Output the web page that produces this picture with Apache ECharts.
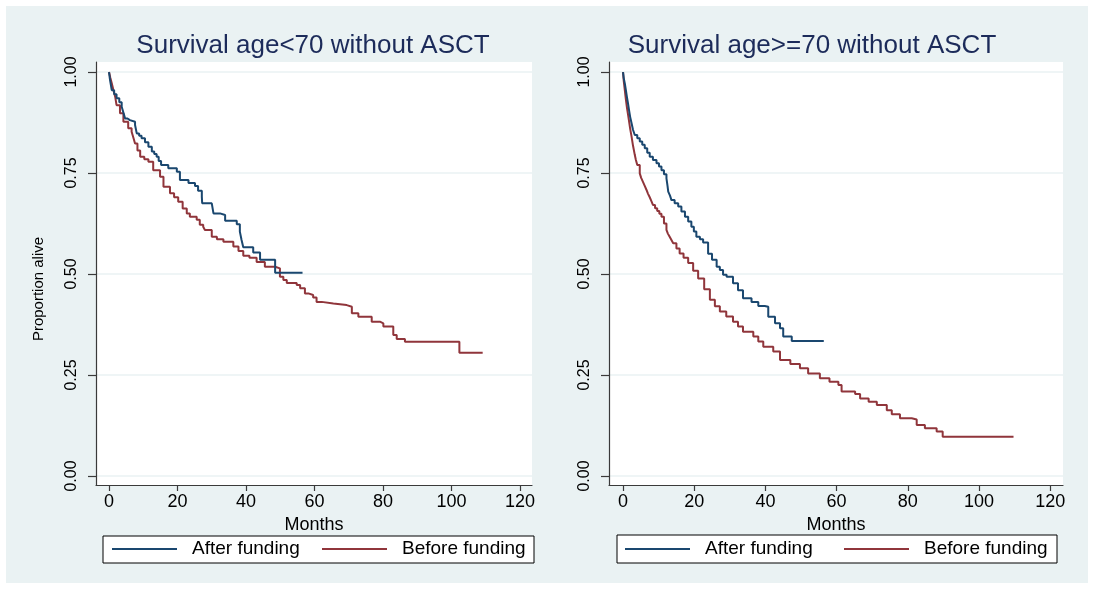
<!DOCTYPE html>
<html><head><meta charset="utf-8">
<script src="https://cdn.jsdelivr.net/npm/echarts@6/dist/echarts.min.js"></script>
<style>
html,body{margin:0;padding:0;background:#fff}
#bg{position:absolute;left:6px;top:6px;width:1082px;height:577px;background:#eaf2f3}
#c{position:absolute;left:0;top:0;width:1094px;height:589px}
</style>
</head><body><div id="bg"></div><div id="c"></div>
<script>
const xTicks = [0, 20, 40, 60, 80, 100, 120];
const yTicks = [0, 0.25, 0.5, 0.75, 1];
const yTickLabels = ['0.00', '0.25', '0.50', '0.75', '1.00'];
const panelTitles = ['Survival age<70 without ASCT', 'Survival age>=70 without ASCT'];
const seriesNames = ['After funding', 'Before funding'];
const xAxisTitle = 'Months';
const yAxisTitle = 'Proportion alive';

// Left panel: age < 70, After funding
const leftAfterMonths = [0, 0.3, 0.8, 1.5, 2.2, 3.0, 3.7, 4.2, 4.7, 5.4, 6.1, 7.6, 8.1, 8.8, 9.5, 10.5, 11.5, 12.5, 13.2, 13.9, 14.5, 15.2, 17.3, 19.8, 20.7, 23.2, 25.1, 26.0, 27.1, 27.2, 30.0, 30.5, 32.4, 33.9, 37.3, 38.2, 38.7, 39.2, 42.1, 44.1, 48.5, 56.5];
const leftAfterSurv   = [1.0, 0.98, 0.955, 0.945, 0.935, 0.925, 0.914, 0.900, 0.885, 0.881, 0.877, 0.869, 0.848, 0.842, 0.836, 0.826, 0.815, 0.803, 0.797, 0.790, 0.780, 0.770, 0.762, 0.753, 0.733, 0.725, 0.718, 0.706, 0.691, 0.675, 0.673, 0.650, 0.646, 0.632, 0.623, 0.605, 0.584, 0.566, 0.553, 0.535, 0.503, 0.503];
// Left panel: age < 70, Before funding
const leftBeforeMonths = [0, 0.4, 0.8, 1.3, 1.8, 2.2, 3.2, 4.2, 5.6, 6.6, 7.1, 7.6, 8.3, 9.1, 10.3, 11.5, 12.9, 14.9, 15.9, 17.8, 19.0, 20.2, 21.5, 22.7, 23.6, 25.6, 26.5, 27.5, 28.0, 30.0, 31.5, 33.4, 36.3, 37.8, 39.2, 41.0, 43.1, 45.5, 48.5, 49.9, 50.9, 51.9, 54.8, 55.8, 57.2, 58.2, 59.6, 60.6, 62.1, 65.5, 69.4, 70.9, 72.8, 76.7, 79.1, 80.1, 83.0, 84.0, 86.4, 102.3, 109.1];
const leftBeforeSurv   = [1.0, 0.985, 0.972, 0.955, 0.939, 0.918, 0.898, 0.877, 0.861, 0.852, 0.838, 0.823, 0.806, 0.790, 0.784, 0.778, 0.757, 0.741, 0.716, 0.700, 0.690, 0.679, 0.662, 0.650, 0.642, 0.634, 0.622, 0.617, 0.609, 0.592, 0.586, 0.580, 0.568, 0.557, 0.545, 0.540, 0.530, 0.518, 0.514, 0.493, 0.485, 0.478, 0.473, 0.465, 0.452, 0.448, 0.442, 0.431, 0.427, 0.423, 0.419, 0.403, 0.394, 0.382, 0.378, 0.370, 0.349, 0.339, 0.332, 0.305, 0.305];
// Right panel: age >= 70, After funding
const rightAfterMonths = [0, 0.2, 0.5, 0.8, 1.1, 1.4, 1.7, 2.0, 2.4, 2.8, 3.3, 4.0, 4.7, 5.4, 6.1, 6.8, 7.5, 8.4, 9.4, 10.1, 10.8, 11.5, 12.2, 12.5, 12.7, 13.2, 13.6, 14.5, 15.5, 16.4, 17.4, 18.3, 19.2, 19.9, 20.6, 21.6, 22.5, 23.9, 25.0, 26.3, 27.2, 28.1, 29.1, 30.9, 32.3, 33.7, 36.1, 38.0, 39.8, 40.8, 42.7, 44.1, 45.0, 47.4, 56.4];
const rightAfterSurv   = [1.0, 0.985, 0.972, 0.955, 0.938, 0.922, 0.905, 0.889, 0.873, 0.857, 0.844, 0.836, 0.828, 0.820, 0.811, 0.800, 0.790, 0.782, 0.774, 0.766, 0.757, 0.747, 0.737, 0.718, 0.704, 0.694, 0.683, 0.675, 0.667, 0.655, 0.642, 0.630, 0.617, 0.605, 0.592, 0.586, 0.578, 0.550, 0.535, 0.518, 0.510, 0.498, 0.493, 0.477, 0.460, 0.440, 0.431, 0.421, 0.419, 0.394, 0.378, 0.366, 0.345, 0.334, 0.334];
// Right panel: age >= 70, Before funding
const rightBeforeMonths = [0, 0.2, 0.5, 0.8, 1.1, 1.4, 1.7, 2.0, 2.4, 2.8, 3.3, 3.6, 4.0, 4.7, 5.1, 5.6, 6.1, 6.6, 7.0, 7.5, 8.0, 8.4, 9.0, 9.6, 10.2, 10.8, 11.5, 12.2, 12.6, 13.1, 13.6, 14.1, 15.0, 15.9, 17.0, 18.3, 19.7, 21.1, 22.8, 24.4, 25.8, 27.2, 29.0, 30.9, 32.3, 33.7, 36.6, 38.0, 39.4, 42.2, 44.1, 47.0, 49.7, 52.0, 55.3, 58.0, 60.5, 61.4, 65.2, 66.6, 69.0, 71.3, 74.1, 75.5, 77.8, 81.1, 82.5, 84.8, 88.1, 89.8, 109.7];
const rightBeforeSurv   = [1.0, 0.978, 0.955, 0.932, 0.912, 0.895, 0.878, 0.860, 0.840, 0.818, 0.795, 0.783, 0.770, 0.749, 0.738, 0.728, 0.718, 0.708, 0.699, 0.690, 0.680, 0.671, 0.663, 0.656, 0.649, 0.642, 0.625, 0.609, 0.600, 0.592, 0.584, 0.576, 0.563, 0.551, 0.540, 0.527, 0.508, 0.489, 0.462, 0.436, 0.420, 0.407, 0.395, 0.382, 0.370, 0.357, 0.345, 0.333, 0.320, 0.308, 0.287, 0.277, 0.267, 0.254, 0.242, 0.233, 0.225, 0.209, 0.203, 0.192, 0.184, 0.176, 0.163, 0.153, 0.143, 0.140, 0.126, 0.118, 0.110, 0.097, 0.097];

const BLUE = '#1a476f', RED = '#90353b', GRID = '#eaf2f3', AXIS = '#3a3a3a';
const FONT = '"Liberation Sans", Arial, sans-serif';
const zip = (a, b) => a.map((v, i) => [v, b[i]]);

const chart = echarts.init(document.getElementById('c'), null, {renderer: 'canvas'});

function xAx(i, min, max) {
  return {
    gridIndex: i, type: 'value', min: min, max: max,
    axisLine: {show: true, onZero: false, lineStyle: {color: AXIS, width: 1.2}},
    axisTick: {show: true, length: 6, customValues: xTicks, lineStyle: {color: AXIS, width: 1.2}},
    axisLabel: {customValues: xTicks, margin: 8, fontSize: 18, color: '#000', fontFamily: FONT},
    splitLine: {show: false},
    name: xAxisTitle, nameLocation: 'middle', nameGap: 26,
    nameTextStyle: {fontSize: 18, color: '#000', fontFamily: FONT}
  };
}
function yAx(i) {
  return {
    gridIndex: i, type: 'value', min: -0.0223, max: 1.0248,
    axisLine: {show: true, onZero: false, lineStyle: {color: AXIS, width: 1.2}},
    axisTick: {show: true, length: 8, customValues: yTicks, lineStyle: {color: AXIS, width: 1.2}},
    axisLabel: {customValues: yTicks, rotate: 90, margin: 16, fontSize: 16, color: '#000', fontFamily: FONT,
      formatter: v => { const k = yTicks.indexOf(v); return k >= 0 ? yTickLabels[k] : ''; }},
    splitLine: {show: true, lineStyle: {color: GRID, width: 1.5}}
  };
}
function ser(name, i, months, surv, color) {
  return {
    name: name, type: 'line', step: 'end', xAxisIndex: i, yAxisIndex: i,
    data: zip(months, surv), showSymbol: false, symbol: 'none',
    lineStyle: {color: color, width: 2}, itemStyle: {color: color},
    emphasis: {disabled: true}, z: 3
  };
}
function leg(name, left, top) {
  return {
    data: [name], left: left, top: top, padding: 0, orient: 'horizontal',
    icon: 'rect', itemWidth: 65, itemHeight: 2, selectedMode: false,
    textStyle: {fontSize: 19, color: '#000', fontFamily: FONT, lineHeight: 20, padding: [0, 0, 0, 10]}
  };
}

chart.setOption({
  animation: false,
  backgroundColor: 'transparent',
  title: [
    {text: panelTitles[0], left: 313, top: 33, textAlign: 'center', padding: 0,
     textStyle: {fontSize: 26, fontWeight: 'normal', color: '#1c2b5a', fontFamily: FONT}},
    {text: panelTitles[1], left: 812, top: 33, textAlign: 'center', padding: 0,
     textStyle: {fontSize: 26, fontWeight: 'normal', color: '#1c2b5a', fontFamily: FONT}}
  ],
  grid: [
    {left: 96, top: 62, width: 436, height: 423, show: true, backgroundColor: '#fff', borderWidth: 0},
    {left: 609, top: 62, width: 454, height: 423, show: true, backgroundColor: '#fff', borderWidth: 0}
  ],
  xAxis: [xAx(0, -3.8, 123.5), xAx(1, -3.94, 123.6)],
  yAxis: [yAx(0), yAx(1)],
  legend: [
    leg(seriesNames[0], 112, 539), leg(seriesNames[1], 322, 539),
    leg(seriesNames[0], 625, 539), leg(seriesNames[1], 844, 539)
  ],
  graphic: [
    {type: 'rect', shape: {x: 103, y: 536, width: 431, height: 27}, style: {fill: '#fff', stroke: '#000', lineWidth: 1}, z: 0},
    {type: 'rect', shape: {x: 617, y: 535, width: 440, height: 28}, style: {fill: '#fff', stroke: '#000', lineWidth: 1}, z: 0},
    {type: 'text', x: 39, y: 289, rotation: Math.PI / 2,
     style: {text: yAxisTitle, fontSize: 15, fill: '#000', fontFamily: FONT, align: 'center', verticalAlign: 'middle'}}
  ],
  series: [
    ser(seriesNames[1], 0, leftBeforeMonths, leftBeforeSurv, RED),
    ser(seriesNames[0], 0, leftAfterMonths, leftAfterSurv, BLUE),
    ser(seriesNames[1], 1, rightBeforeMonths, rightBeforeSurv, RED),
    ser(seriesNames[0], 1, rightAfterMonths, rightAfterSurv, BLUE)
  ]
});
</script>
</body></html>
